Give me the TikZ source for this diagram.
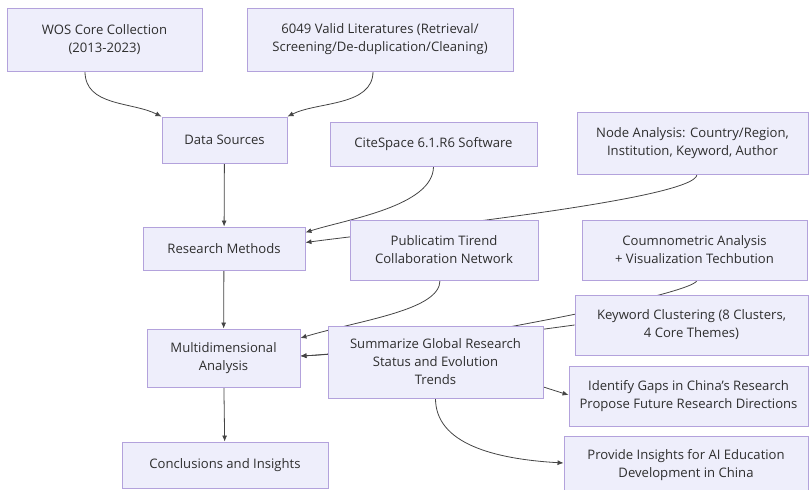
\documentclass[tikz,border=0pt]{standalone}
\usepackage{fontspec}
\setmainfont{Open Sans}
\usepackage{tikz}
\usetikzlibrary{arrows.meta,backgrounds}

\definecolor{boxfill}{HTML}{EEEEFB}
\definecolor{boxline}{HTML}{B3A2DC}
\definecolor{txt}{HTML}{2E2E2E}
\definecolor{edge}{HTML}{444444}

\tikzset{
  box/.style={draw=boxline, fill=boxfill, text=txt, align=center, inner sep=0pt,
    line width=0.9pt, font=\fontsize{13.1}{18}\selectfont},
  link/.style={draw=edge, line width=0.8pt, -{Latex[length=6pt,width=5pt]}}
}

\begin{document}
\begin{tikzpicture}[x=1pt,y=-1pt]
    \useasboundingbox (0,0) rectangle (809,490);
    % sources
    \node[box, minimum width=195pt, minimum height=63pt] (wos) at (104.5,39.5) {WOS Core Collection\\(2013-2023)};
    \node[box, minimum width=266pt, minimum height=63pt] (lit) at (380,39.5) {6049 Valid Literatures (Retrieval/\\Screening/De-duplication/Cleaning)};
    % main column
    \node[box, minimum width=125pt, minimum height=46pt] (src) at (224.5,140) {Data Sources};
    \node[box, minimum width=162pt, minimum height=43pt] (meth) at (224,248.5) {Research Methods};
    \node[box, minimum width=153pt, minimum height=58pt] (multi) at (223.5,358) {Multidimensional\\Analysis};
    \node[box, minimum width=206pt, minimum height=46pt] (concl) at (225,465) {Conclusions and Insights};
    % methods
    \node[box, minimum width=207pt, minimum height=44pt] (cite) at (433.5,144) {CiteSpace 6.1.R6 Software};
    \node[box, minimum width=231pt, minimum height=62pt] (nodean) at (692.5,143) {Node Analysis: Country/Region,\\Institution, Keyword, Author};
    % analysis
    \node[box, minimum width=188pt, minimum height=60pt] (pub) at (444,250) {Publicatim Tirend\\Collaboration Network};
    \node[box, minimum width=225pt, minimum height=60pt] (cocit) at (694.5,250) {Coumnometric Analysis\\+ Visualization Techbution};
    \node[box, minimum width=233pt, minimum height=60pt] (kw) at (691.5,325) {Keyword Clustering (8 Clusters,\\4 Core Themes)};
    % conclusions
    \node[box, minimum width=215pt, minimum height=72pt] (summ) at (435.5,362) {Summarize Global Research\\Status and Evolution\\Trends};
    \node[box, minimum width=239pt, minimum height=60pt] (gaps) at (688.5,396) {Identify Gaps in China's Research\\Propose Future Research Directions};
    \node[box, minimum width=244pt, minimum height=58pt] (ins) at (686,465) {Provide Insights for AI Education\\Development in China};

    \begin{scope}[on background layer]
    \draw[link] ([xshift=-19.5pt]wos.south) .. controls +(0,35) and +(-30,-15) .. (src.north west);
    \draw[link] ([xshift=-7pt]lit.south) .. controls +(0,35) and +(30,-15) .. (src.north east);
    \draw[link] (src) -- (meth);
    \draw[link] (cite.south) .. controls +(0,40) and +(40,-13) .. ([yshift=16pt]meth.east);
    \draw[link] ([xshift=4.5pt]nodean.south) .. controls +(0,25) and +(90,-12) .. ([yshift=6pt]meth.east);
    \draw[link] (meth) -- (multi);
    \draw[link] ([xshift=-4pt]pub.south) .. controls +(0,30) and +(60,-18) .. ([yshift=20pt]multi.east);
    \draw[link] ([xshift=2.5pt]cocit.south) .. controls +(-3,15) and +(100,-5) .. ([yshift=2pt]multi.east);
    \draw[link] (kw.west) .. controls +(-60,8) and +(80,-4) .. ([yshift=2pt]multi.east);
    \draw[link] (multi) -- (concl);
    \draw[link] ([yshift=-25pt]summ.east) -- ([yshift=1pt]gaps.west);
    \draw[link] (summ.south) .. controls +(0,45) and +(-70,-4) .. ([yshift=2pt]ins.west);
    \end{scope}
\end{tikzpicture}
\end{document}
